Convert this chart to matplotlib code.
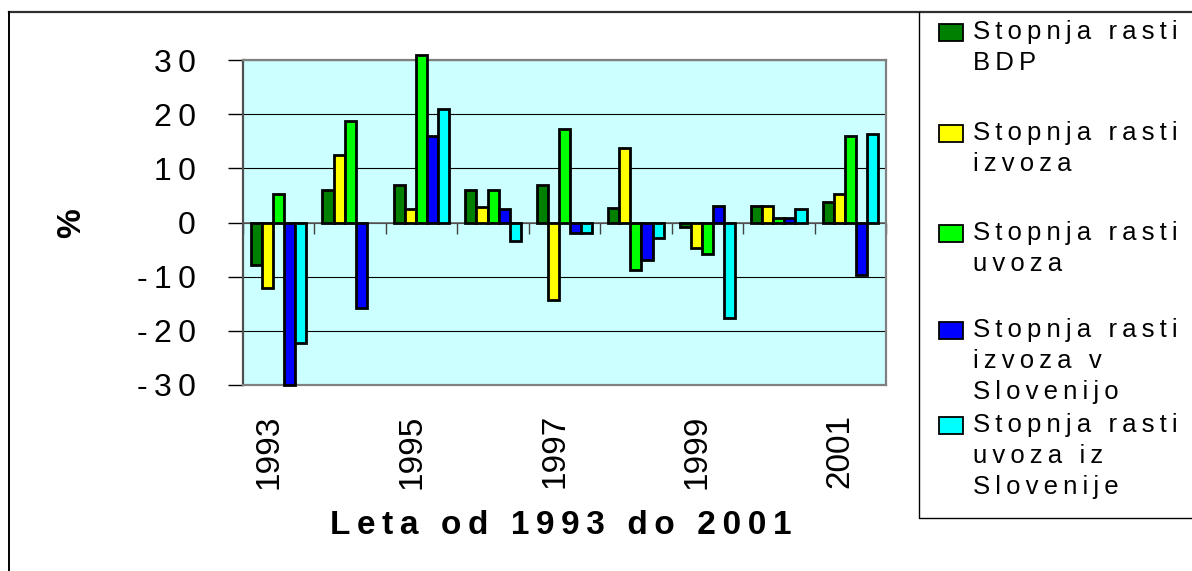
import numpy as np
import matplotlib
matplotlib.use("Agg")
import matplotlib.pyplot as plt
from matplotlib.patches import Rectangle
from matplotlib.transforms import ScaledTranslation

plt.rcParams['font.family'] = ['Liberation Sans', 'DejaVu Sans']

# podatki (stopnje rasti v %)
years = [1993, 1994, 1995, 1996, 1997, 1998, 1999, 2000, 2001]
bdp = [-7.8, 6.0, 6.9, 6.0, 6.9, 2.6, -0.9, 3.0, 3.8]
izvoz = [-12.0, 12.5, 2.5, 2.9, -14.3, 13.7, -4.7, 3.0, 5.3]
uvoz = [5.2, 18.7, 31.0, 6.0, 17.2, -8.8, -5.9, 0.9, 16.0]
izvoz_slo = [-30.0, -15.7, 16.0, 2.5, -2.0, -7.0, 3.0, 0.9, -9.6]
uvoz_slo = [-22.3, np.nan, 21.0, -3.5, -2.0, -2.8, -17.7, 2.5, 16.4]

series_names = ["Stopnja rasti\nBDP",
                "Stopnja rasti\nizvoza",
                "Stopnja rasti\nuvoza",
                "Stopnja rasti\nizvoza v\nSlovenijo",
                "Stopnja rasti\nuvoza iz\nSlovenije"]
colors = ["#008000", "#FFFF00", "#00FF00", "#0000FF", "#00FFFF"]
y_ticks = [-30, -20, -10, 0, 10, 20, 30]
x_title = "Leta od 1993 do 2001"
y_title = "%"


def spaced(s, sep="\u2009"):
    # razmik med crkami kot na originalni sliki
    return sep.join(s)


fig = plt.figure(figsize=(11.92, 5.71), dpi=100)
ax = fig.add_axes([243 / 1192, 1 - 385 / 571, 643 / 1192, 325 / 571])
ax.set_facecolor("#CCFFFF")

x = np.arange(len(years))
w = 0.155
data = [bdp, izvoz, uvoz, izvoz_slo, uvoz_slo]
for i, (vals, c) in enumerate(zip(data, colors)):
    ax.bar(x + (i - 2) * w, vals, width=w, color=c, edgecolor="black",
           linewidth=2.0, zorder=3, clip_on=False)

ax.set_xlim(-0.5, len(years) - 0.5)
ax.set_ylim(-30, 30)
ax.set_yticks(y_ticks)
ax.set_yticklabels([spaced(str(v)) for v in y_ticks], fontsize=23)
ax.tick_params(axis='y', direction='out', length=11, width=1, pad=23)
ax.yaxis.grid(True, color="black", linewidth=0.8, zorder=1)
ax.axhline(0, color="#606060", linewidth=1.2, zorder=2)

ax.set_xticks(x[::2])
ax.set_xticklabels([str(y) for y in years[::2]], rotation=90, fontsize=24)
ax.tick_params(axis='x', length=0, pad=21)
for lab in ax.get_xticklabels():
    lab.set_transform(lab.get_transform() + ScaledTranslation(-0.10, 0, fig.dpi_scale_trans))

for s in ax.spines.values():
    s.set_color("#808080")
    s.set_linewidth(1.6)
ax.spines['left'].set_color("#505050")

# kljukice med kategorijami na osi 0
sec = ax.secondary_xaxis(0.5)
sec.set_xticks(np.arange(-0.5, len(years), 1.0))
sec.tick_params(axis='x', which='both', top=False, bottom=True, labeltop=False,
                labelbottom=False, direction='out', length=8, width=1, color="#404040")
for s in sec.spines.values():
    s.set_visible(False)

fig.text(561 / 1192, 1 - 534 / 571, spaced(x_title), fontsize=24, fontweight='bold',
         ha='center', va='baseline')
fig.text(72 / 1192, 1 - 223 / 571, y_title, rotation=90, fontsize=24,
         fontweight='bold', ha='center', va='center')

# okvir in legenda v pikslih
lax = fig.add_axes([0, 0, 1, 1], zorder=-1)
lax.set_xlim(0, 1192)
lax.set_ylim(571, 0)
lax.axis('off')
lax.plot([9, 1192], [12, 12], color="#303030", linewidth=1.6)
lax.plot([9, 9], [12, 571], color="black", linewidth=1.4)
lax.plot([919, 919, 1192], [12, 518, 518], color="black", linewidth=1.0)

lax2 = fig.add_axes([0, 0, 1, 1], zorder=5)
lax2.set_xlim(0, 1192)
lax2.set_ylim(571, 0)
lax2.axis('off')
entry_y = [32, 133, 233, 330, 425]
for name, c, y0 in zip(series_names, colors, entry_y):
    lax2.add_patch(Rectangle((939, y0 - 8), 24, 17, facecolor=c, edgecolor="black",
                             linewidth=1.3))
    for k, line in enumerate(name.split("\n")):
        lax2.text(973, y0 + k * 31, spaced(line), fontsize=18.5, ha='left', va='center')

fig.savefig("out.png", dpi=100)
